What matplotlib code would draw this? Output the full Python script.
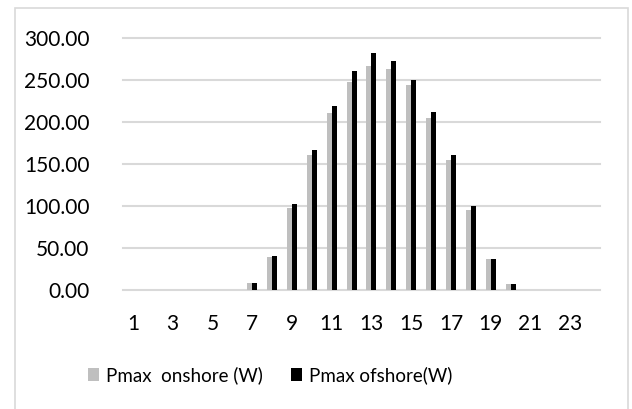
import numpy as np
import matplotlib
matplotlib.use("Agg")
import matplotlib.pyplot as plt
from matplotlib.patches import Rectangle

plt.rcParams['font.family'] = ['Lato', 'DejaVu Sans']

# hourly maximum power
hours = list(range(1, 25))
onshore = [0, 0, 0, 0, 0, 0, 8, 39, 98, 160, 210, 247, 266, 263, 243, 204, 155, 95, 37, 7, 0, 0, 0, 0]
offshore = [0, 0, 0, 0, 0, 0, 8, 40, 102, 166, 219, 260, 282, 272, 250, 212, 160, 100, 37, 7, 0, 0, 0, 0]
labels = ['Pmax  onshore (W)', 'Pmax ofshore(W)']
yticks = [0, 50, 100, 150, 200, 250, 300]

fig = plt.figure(figsize=(6.32, 4.09), dpi=100)
ax = fig.add_axes([123 / 632, 1 - 290 / 409, 477 / 632, 252.5 / 409])

# outer chart frame
fig.patches.append(Rectangle((15 / 632, -0.05), 613 / 632, 1.05 - 8 / 409,
                             transform=fig.transFigure, fill=False,
                             edgecolor='#d9d9d9', linewidth=1.2))

x = np.arange(len(hours))
w = 0.25
ax.bar(x - w / 2, onshore, width=w, color='#bfbfbf', label=labels[0])
ax.bar(x + w / 2, offshore, width=w, color='#000000', label=labels[1])

ax.set_xlim(-0.5, len(hours) - 0.5)
ax.set_ylim(0, 300)
ax.set_yticks(yticks)
ax.set_yticklabels([f'{v:.2f}' for v in yticks])
ax.set_xticks(x[::2])
ax.set_xticklabels([str(h) for h in hours[::2]])
ax.tick_params(length=0, labelsize=15, colors='#000000')
ax.tick_params(axis='y', pad=24)
ax.tick_params(axis='x', pad=17)
for s in ax.spines.values():
    s.set_visible(False)
ax.yaxis.grid(True, color='#d9d9d9', linewidth=1.5)
ax.set_axisbelow(True)
for line in ax.get_ygridlines():
    line.set_clip_on(False)

fig.legend(*ax.get_legend_handles_labels(), loc='center',
           bbox_to_anchor=(270 / 632, 1 - 375 / 409), ncol=2, frameon=False,
           fontsize=13.5, handlelength=0.6, handleheight=0.7, handletextpad=0.35,
           columnspacing=1.5, borderpad=0, borderaxespad=0)

fig.savefig('out.png', dpi=100)
